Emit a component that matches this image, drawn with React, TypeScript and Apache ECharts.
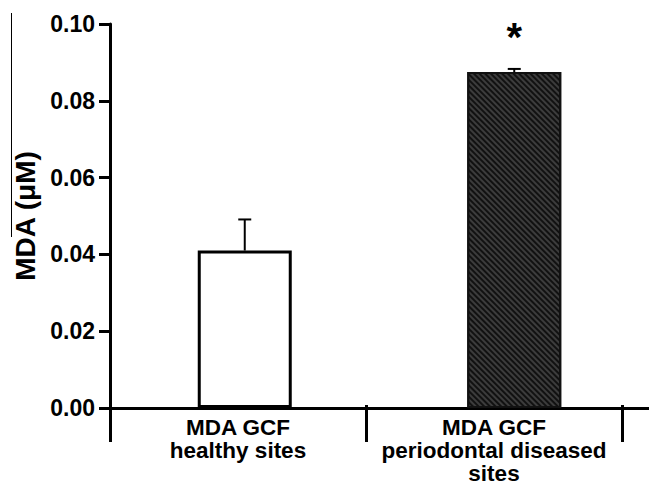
import React, { useEffect, useRef } from "react";
import * as echarts from "echarts";

const categories = ["MDA GCF\nhealthy sites", "MDA GCF\nperiodontal diseased\nsites"];
const means = [0.041, 0.0875];
const sems = [0.0081, 0.0008];
const significance = ["", "*"];
const yTicks = { min: 0, max: 0.1, interval: 0.02 };

const FONT = "'Liberation Sans', Arial, Helvetica, sans-serif";

export default function App() {
  const ref = useRef<HTMLDivElement>(null);
  useEffect(() => {
    if (!ref.current) return;
    const chart = echarts.init(ref.current, undefined, { renderer: "svg" });
    chart.setOption({
      animation: false,
      backgroundColor: "#ffffff",
      textStyle: { fontFamily: FONT },
      grid: [
        { left: 110, top: 24, width: 539, height: 384 },
        { left: 110, top: 400, width: 512, height: 8 },
      ],
      xAxis: [
        {
          type: "category",
          gridIndex: 0,
          data: categories,
          boundaryGap: true,
          axisLine: { show: true, lineStyle: { color: "#000", width: 3 } },
          axisTick: { show: false },
          axisLabel: { show: false },
        },
        {
          type: "category",
          gridIndex: 1,
          data: categories,
          boundaryGap: true,
          axisLine: { show: false },
          axisTick: { show: true, length: 37, lineStyle: { color: "#000", width: 3 } },
          axisLabel: {
            show: true,
            interval: 0,
            margin: 11,
            color: "#000",
            fontFamily: FONT,
            fontWeight: "bold",
            fontSize: 22.5,
            lineHeight: 23,
          },
        },
      ],
      yAxis: [
        {
          type: "value",
          gridIndex: 0,
          min: yTicks.min,
          max: yTicks.max,
          interval: yTicks.interval,
          name: "MDA (μM)",
          nameLocation: "middle",
          nameGap: 70,
          nameTextStyle: { color: "#000", fontFamily: FONT, fontWeight: "bold", fontSize: 28 },
          splitLine: { show: false },
          axisLine: { show: true, lineStyle: { color: "#000", width: 3 } },
          axisTick: { show: true, length: 11, lineStyle: { color: "#000", width: 3 } },
          axisLabel: {
            color: "#000",
            fontFamily: FONT,
            fontWeight: "bold",
            fontSize: 23,
            margin: 15,
            formatter: (v: number) => v.toFixed(2),
          },
        },
        { type: "value", gridIndex: 1, show: false, min: 0, max: 1 },
      ],
      series: [
        {
          type: "bar",
          xAxisIndex: 0,
          yAxisIndex: 0,
          barWidth: 94,
          data: means.map((m, i) => ({
            value: m,
            label: {
              show: significance[i] !== "",
              position: "top",
              distance: 15,
              formatter: significance[i],
              color: "#000",
              fontFamily: FONT,
              fontWeight: "bold",
              fontSize: 40,
            },
            itemStyle:
              i === 0
                ? { color: "#ffffff", borderColor: "#000", borderWidth: 3 }
                : {
                    color: "#3c3c3c",
                    borderColor: "#111",
                    borderWidth: 2,
                    decal: {
                      symbol: "rect",
                      dashArrayX: [1, 0],
                      dashArrayY: [1.5, 2],
                      rotation: Math.PI / 4,
                      color: "#111111",
                    },
                  },
          })),
        },
        {
          type: "custom",
          xAxisIndex: 0,
          yAxisIndex: 0,
          data: means.map((m, i) => [i, m, m + sems[i]]),
          renderItem: (params: any, api: any) => {
            const x = api.value(0);
            const p0 = api.coord([x, api.value(1)]);
            const p1 = api.coord([x, api.value(2)]);
            const half = 6.5;
            return {
              type: "group",
              children: [
                {
                  type: "line",
                  shape: { x1: p0[0], y1: p0[1], x2: p1[0], y2: p1[1] },
                  style: { stroke: "#000", lineWidth: 2 },
                },
                {
                  type: "line",
                  shape: { x1: p1[0] - half, y1: p1[1], x2: p1[0] + half, y2: p1[1] },
                  style: { stroke: "#000", lineWidth: 2 },
                },
              ],
            };
          },
          z: 5,
        },
      ],
      graphic: [
        {
          type: "line",
          shape: { x1: 11.5, y1: 13, x2: 11.5, y2: 237 },
          style: { stroke: "#000", lineWidth: 1 },
        },
      ],
    });
    return () => chart.dispose();
  }, []);
  return (
    <div
      ref={ref}
      style={{ position: "absolute", left: 0, top: 0, width: 649, height: 485, background: "#fff" }}
    />
  );
}
